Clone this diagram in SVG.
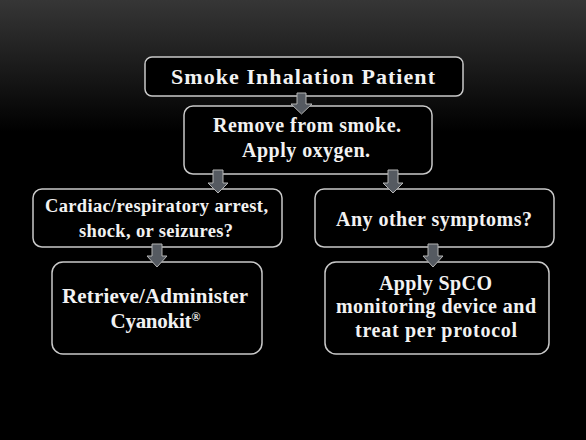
<svg xmlns="http://www.w3.org/2000/svg" width="586" height="440" viewBox="0 0 586 440">
<defs>
<linearGradient id="bg" x1="0" y1="0" x2="0" y2="1">
<stop offset="0" stop-color="#363636"/>
<stop offset="0.3" stop-color="#000000"/>
<stop offset="1" stop-color="#000000"/>
</linearGradient>
<style>
.box{fill:#000;stroke:#c9c9c9;stroke-width:1.5}
.arr{fill:#555a61;stroke:#b4b4b4;stroke-width:1}
.t{font-family:"Liberation Serif","Times New Roman",serif;font-weight:bold;fill:#f2f2f2;text-anchor:middle}
</style>
</defs>
<rect x="0" y="0" width="586" height="440" fill="url(#bg)"/>
<g id="n1">
<rect class="box" x="145" y="57" width="318" height="39" rx="7"/>
<text class="t" x="303" y="84" font-size="22" textLength="264" lengthAdjust="spacing">Smoke Inhalation  Patient</text>
</g>
<g id="n2">
<rect class="box" x="184" y="106" width="248" height="68" rx="9"/>
<text class="t" x="307" y="132" font-size="20" textLength="188" lengthAdjust="spacing">Remove from smoke.</text>
<text class="t" x="306" y="157" font-size="20" textLength="128" lengthAdjust="spacing">Apply oxygen.</text>
</g>
<g id="n3">
<rect class="box" x="33" y="189" width="249" height="58" rx="9"/>
<text class="t" x="156.5" y="212" font-size="18.5" textLength="223" lengthAdjust="spacing">Cardiac/respiratory  arrest,</text>
<text class="t" x="156" y="237" font-size="18.5" textLength="154" lengthAdjust="spacing">shock, or seizures?</text>
</g>
<g id="n4">
<rect class="box" x="315" y="189" width="239" height="58" rx="9"/>
<text class="t" x="434" y="226" font-size="20" textLength="196" lengthAdjust="spacing">Any other symptoms?</text>
</g>
<g id="n5">
<rect class="box" x="52" y="262" width="210" height="92" rx="11"/>
<text class="t" x="155" y="303" font-size="21" textLength="186" lengthAdjust="spacing">Retrieve/Administer</text>
<text class="t" x="151" y="328" font-size="21" textLength="81" lengthAdjust="spacing">Cyanokit</text>
<text class="t" x="196" y="321" font-size="12">®</text>
</g>
<g id="n6">
<rect class="box" x="325" y="262" width="224" height="92" rx="11"/>
<text class="t" x="435.5" y="290" font-size="20" textLength="113" lengthAdjust="spacing">Apply SpCO</text>
<text class="t" x="436" y="313" font-size="20" textLength="200" lengthAdjust="spacing">monitoring device and</text>
<text class="t" x="436" y="337" font-size="20" textLength="162" lengthAdjust="spacing">treat per protocol</text>
</g>
<g id="connectors">
<path class="arr" d="M297,93 H306 V104 H312 L301.5,114 L291,104 H297 Z"/>
<path class="arr" d="M213,170 H223 V183 H228 L218,193 L208,183 H213 Z"/>
<path class="arr" d="M388,170 H398 V183 H403 L393,193 L383,183 H388 Z"/>
<path class="arr" d="M152,244 H162 V256 H167 L157,267 L147,256 H152 Z"/>
<path class="arr" d="M428,244 H438 V256 H443 L433,267 L423,256 H428 Z"/>
</g>
</svg>
